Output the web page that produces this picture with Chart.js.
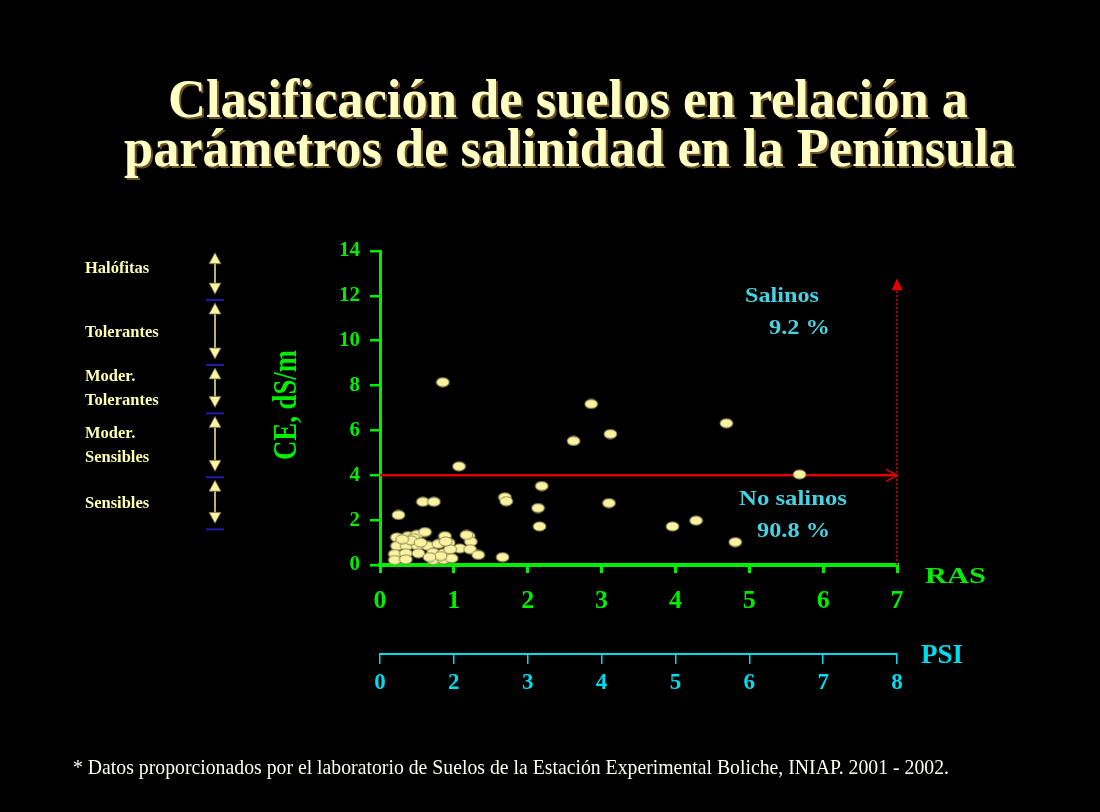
<!DOCTYPE html>
<html>
<head>
<meta charset="utf-8">
<script src="https://cdn.jsdelivr.net/npm/chart.js@4.4.1/dist/chart.umd.min.js"></script>
<style>
  html, body { margin: 0; padding: 0; background: #000; }
  canvas { display: block; background: #000; }
</style>
</head>
<body>
<canvas id="c" width="1100" height="812"></canvas>
<script>
// ---------- DATA ----------
const titleLines = ['Clasificación de suelos en relación a', 'parámetros de salinidad en la Península'];
const footnote = '* Datos proporcionados por el laboratorio de Suelos de la Estación Experimental Boliche, INIAP. 2001 - 2002.';

// RAS (x) and CE dS/m (y) of each soil sample
const ras = [
  0.85, 1.07, 1.69, 1.71, 2.19, 2.14, 2.16, 2.62, 2.86, 3.12,
  3.10, 3.96, 4.28, 4.69, 4.81, 5.68, 1.66, 0.25, 0.58, 0.73,
  0.23, 0.38, 0.50, 0.61, 0.88, 1.20, 1.23, 0.23, 0.36, 0.51,
  0.65, 0.79, 0.93, 1.08, 1.22, 0.20, 0.35, 0.52, 0.72, 0.86,
  0.95, 1.33, 0.20, 0.35, 0.72, 0.86, 0.97, 0.45, 0.42, 0.89,
  1.17, 0.55, 0.30, 0.82, 0.67
];
const ce = [
  8.15, 4.40, 3.02, 2.84, 3.52, 2.54, 1.72, 5.53, 7.18, 5.84,
  2.76, 1.72, 1.98, 6.32, 1.02, 4.04, 0.35, 2.23, 2.82, 2.82,
  1.23, 1.29, 1.35, 1.47, 1.29, 1.29, 1.04, 0.85, 0.85, 0.85,
  0.85, 0.94, 0.99, 0.74, 0.70, 0.49, 0.52, 0.52, 0.55, 0.52,
  0.70, 0.45, 0.22, 0.25, 0.22, 0.25, 0.30, 1.20, 1.10, 1.05,
  1.34, 1.00, 1.15, 0.40, 0.35
];

const rasTicks = [0, 1, 2, 3, 4, 5, 6, 7];
const psiLabels = ['0', '2', '3', '4', '5', '6', '7', '8'];
const ceThreshold = 4;           // salinity limit, dS/m
const salinosText = ['Salinos', '9.2 %'];
const noSalinosText = ['No salinos', '90.8 %'];

// tolerance classes (left side), boundaries in CE units
const toleranceClasses = [['Halófitas'], ['Tolerantes'], ['Moder.', 'Tolerantes'], ['Moder.', 'Sensibles'], ['Sensibles']];
const toleranceBounds = [13.92, 11.81, 8.92, 6.76, 3.91, 1.59];

// ---------- STYLE ----------
const GREEN = '#00ee00';
const CYAN_TXT = '#45d2e2';
const CYAN_AX = '#00dcec';
const CREAM = '#ffffc4';
const SERIF = '"Liberation Serif", "DejaVu Serif", serif';

// ellipse point image
const pt = document.createElement('canvas');
pt.width = 15; pt.height = 11;
(function () {
  const g = pt.getContext('2d');
  g.beginPath();
  g.ellipse(7.5, 5.5, 6.4, 4.6, 0, 0, Math.PI * 2);
  g.fillStyle = '#f8f2a2';
  g.fill();
  g.lineWidth = 1;
  g.strokeStyle = '#8d8650';
  g.stroke();
})();

function fitText(ctx, text, x, y, font, width, align) {
  ctx.font = font;
  const w = ctx.measureText(text).width;
  const s = width / w;
  ctx.save();
  ctx.translate(x, y);
  ctx.scale(s, 1);
  ctx.textAlign = align || 'center';
  ctx.fillText(text, 0, 0);
  ctx.restore();
}

const deco = {
  id: 'deco',
  beforeDraw(chart) {
    const ctx = chart.ctx;
    ctx.save();
    ctx.fillStyle = '#000';
    ctx.fillRect(0, 0, chart.width, chart.height);
    ctx.restore();
  },
  beforeDatasetsDraw(chart) {
    const ctx = chart.ctx;
    const xs = chart.scales.x, ys = chart.scales.y;
    const x0 = xs.getPixelForValue(0), x7 = xs.getPixelForValue(7);
    const yT = ys.getPixelForValue(ceThreshold);
    ctx.save();
    // red vertical dotted line at RAS = 7
    ctx.strokeStyle = '#e00000';
    ctx.lineWidth = 1.5;
    ctx.setLineDash([2, 2]);
    const yTop = ys.getPixelForValue(12.3);
    ctx.beginPath();
    ctx.moveTo(x7, ys.getPixelForValue(0));
    ctx.lineTo(x7, yTop);
    ctx.stroke();
    ctx.setLineDash([]);
    ctx.fillStyle = '#e00000';
    ctx.beginPath();
    ctx.moveTo(x7, yTop - 11);
    ctx.lineTo(x7 - 5.5, yTop + 1);
    ctx.lineTo(x7 + 5.5, yTop + 1);
    ctx.closePath();
    ctx.fill();
    // red horizontal threshold line
    ctx.strokeStyle = '#e00000';
    ctx.lineWidth = 2.5;
    ctx.beginPath();
    ctx.moveTo(x0, yT);
    ctx.lineTo(x7, yT);
    ctx.stroke();
    ctx.lineWidth = 1.5;
    ctx.beginPath();
    ctx.moveTo(x7 - 11, yT - 6);
    ctx.lineTo(x7, yT);
    ctx.lineTo(x7 - 11, yT + 6);
    ctx.stroke();
    ctx.restore();
  },
  afterDraw(chart) {
    const ctx = chart.ctx;
    const ys = chart.scales.y;
    ctx.save();
    // title
    ctx.fillStyle = CREAM;
    ctx.textBaseline = 'alphabetic';
    ctx.shadowColor = 'rgba(120,90,40,0.9)';
    ctx.shadowOffsetX = 2; ctx.shadowOffsetY = 2;
    fitText(ctx, titleLines[0], 568, 117, 'bold 55px ' + SERIF, 800);
    fitText(ctx, titleLines[1], 569.5, 166, 'bold 55px ' + SERIF, 891);
    ctx.shadowColor = 'transparent';
    ctx.shadowOffsetX = 0; ctx.shadowOffsetY = 0;

    // tolerance classes with arrows
    for (let i = 0; i < toleranceClasses.length; i++) {
      const yA = ys.getPixelForValue(toleranceBounds[i]);
      const yB = ys.getPixelForValue(toleranceBounds[i + 1]);
      const top = i === 0 ? yA : yA + 3;
      const bot = yB - 6;
      const ax = 215;
      ctx.strokeStyle = '#f4f0a0';
      ctx.lineWidth = 1.5;
      ctx.beginPath();
      ctx.moveTo(ax, top + 8);
      ctx.lineTo(ax, bot - 8);
      ctx.stroke();
      ctx.fillStyle = '#f8f4a0';
      ctx.strokeStyle = '#6a6640';
      ctx.lineWidth = 0.8;
      ctx.beginPath();
      ctx.moveTo(ax, top); ctx.lineTo(ax - 6, top + 11); ctx.lineTo(ax + 6, top + 11); ctx.closePath();
      ctx.fill(); ctx.stroke();
      ctx.beginPath();
      ctx.moveTo(ax, bot); ctx.lineTo(ax - 6, bot - 11); ctx.lineTo(ax + 6, bot - 11); ctx.closePath();
      ctx.fill(); ctx.stroke();
      // blue separator
      ctx.strokeStyle = '#1c1ca8';
      ctx.lineWidth = 2;
      ctx.beginPath();
      ctx.moveTo(206, yB); ctx.lineTo(224, yB);
      ctx.stroke();
      // label
      const lines = toleranceClasses[i];
      const cy = (yA + yB) / 2 - (i === 0 ? 8 : 0);
      ctx.fillStyle = '#ffffb0';
      ctx.font = 'bold 16.5px ' + SERIF;
      ctx.textAlign = 'left';
      ctx.textBaseline = 'middle';
      lines.forEach((t, k) => {
        ctx.fillText(t, 85, cy + (k - (lines.length - 1) / 2) * 24);
      });
    }

    // CE axis title (rotated)
    ctx.save();
    ctx.translate(296, 405);
    ctx.rotate(-Math.PI / 2);
    ctx.fillStyle = GREEN;
    ctx.textBaseline = 'alphabetic';
    fitText(ctx, 'CE, dS/m', 0, 0, 'bold 34px ' + SERIF, 110);
    ctx.restore();

    // annotations
    ctx.textBaseline = 'middle';
    ctx.fillStyle = CYAN_TXT;
    fitText(ctx, salinosText[0], 782, 296, 'bold 22px ' + SERIF, 74);
    fitText(ctx, salinosText[1], 799.5, 328, 'bold 22px ' + SERIF, 61);
    fitText(ctx, noSalinosText[0], 793, 499, 'bold 22px ' + SERIF, 108);
    fitText(ctx, noSalinosText[1], 793.5, 531, 'bold 22px ' + SERIF, 73);

    // axis names
    ctx.fillStyle = GREEN;
    fitText(ctx, 'RAS', 955.5, 577, 'bold 24px ' + SERIF, 61);
    ctx.fillStyle = CYAN_AX;
    fitText(ctx, 'PSI', 942, 656, 'bold 27px ' + SERIF, 42);

    // footnote
    ctx.fillStyle = '#fffff0';
    ctx.textBaseline = 'alphabetic';
    fitText(ctx, footnote, 73, 774, '22px ' + SERIF, 876, 'left');
    ctx.restore();
  }
};

new Chart(document.getElementById('c'), {
  type: 'scatter',
  data: {
    datasets: [{
      data: ras.map((x, i) => ({ x: x, y: ce[i] })),
      pointStyle: pt,
      pointRadius: 6,
      pointHoverRadius: 6
    }]
  },
  options: {
    responsive: false,
    animation: false,
    events: [],
    layout: { padding: { left: 300, right: 203, top: 251, bottom: 108 } },
    plugins: { legend: { display: false }, tooltip: { enabled: false }, title: { display: false } },
    scales: {
      x: {
        type: 'linear', position: 'bottom', weight: 0,
        min: 0, max: 7,
        afterBuildTicks: s => { s.ticks = rasTicks.map(v => ({ value: v })); },
        ticks: { color: GREEN, font: { family: SERIF, size: 26, weight: 'bold' }, padding: 13, maxRotation: 0 },
        grid: { drawOnChartArea: false, color: GREEN, lineWidth: 3, tickLength: 8 },
        border: { color: GREEN, width: 4 },
        afterFit: s => { s.height = 89; }
      },
      x2: {
        type: 'category', position: 'bottom', weight: 1,
        labels: psiLabels, offset: false,
        ticks: { color: CYAN_AX, font: { family: SERIF, size: 23, weight: 'bold' }, padding: 5, maxRotation: 0, autoSkip: false },
        grid: { drawOnChartArea: false, color: CYAN_AX, lineWidth: 1.5, tickLength: 10, offset: false },
        border: { color: CYAN_AX, width: 2 },
        afterFit: s => { s.height = 50; }
      },
      y: {
        type: 'linear', position: 'left',
        min: 0, max: 14,
        ticks: { stepSize: 2, color: GREEN, font: { family: SERIF, size: 21, weight: 'bold' }, padding: 10 },
        grid: { drawOnChartArea: false, color: GREEN, lineWidth: 2.5, tickLength: 10 },
        border: { color: GREEN, width: 3 },
        afterFit: s => { s.width = 80; }
      }
    }
  },
  plugins: [deco]
});
</script>
</body>
</html>
